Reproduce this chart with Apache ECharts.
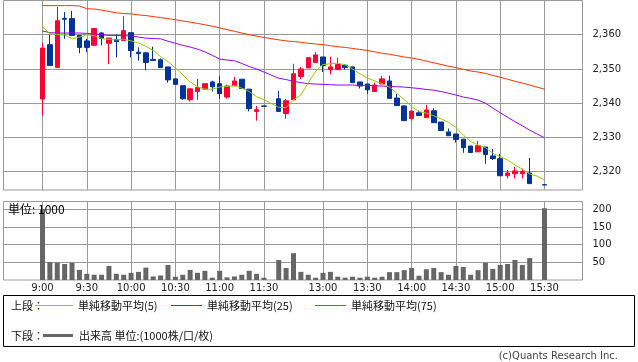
<!DOCTYPE html>
<html><head><meta charset="utf-8">
<script src="https://cdn.jsdelivr.net/npm/echarts@6/dist/echarts.min.js"></script>
<style>html,body{margin:0;padding:0;background:#fff}#c{width:638px;height:362px}</style>
</head><body><div id="c"></div>
<script>
// 5-minute slots ('' = lunch break slot)
const slots = ['9:00','9:05','9:10','9:15','9:20','9:25','9:30','9:35','9:40','9:45','9:50','9:55',
 '10:00','10:05','10:10','10:15','10:20','10:25','10:30','10:35','10:40','10:45','10:50','10:55',
 '11:00','11:05','11:10','11:15','11:20','11:25','11:30','',
 '12:30','12:35','12:40','12:45','12:50','12:55','13:00','13:05','13:10','13:15','13:20','13:25',
 '13:30','13:35','13:40','13:45','13:50','13:55','14:00','14:05','14:10','14:15','14:20','14:25',
 '14:30','14:35','14:40','14:45','14:50','14:55','15:00','15:05','15:10','15:15','15:20','15:25','15:30'];
const timeTicks = ['9:00','9:30','10:00','10:30','11:00','11:30','13:00','13:30','14:00','14:30','15:00','15:30'];
const priceTicks = [2320,2330,2340,2350,2360];
const volumeTicks = [50,100,150,200];

const open = [2341.2,2357.1,2350.4,2364.8,2364.7,2359.8,2358.2,2356.9,2360.5,2357.5,2358.6,2358.3,
 2360.6,2354.9,2354.7,2352.8,2352.7,2350.6,2347.1,2345.1,2341.0,2343.4,2344.1,2346.2,
 2345.7,2341.8,2345.1,2347.0,2344.1,2337.6,2339.2,null,
 2341.3,2337.0,2341.0,2347.8,2350.3,2351.9,2353.5,2349.8,2349.8,2351.1,2350.6,2346.2,
 2345.6,2343.4,2345.6,2346.5,2341.5,2339.2,2335.5,2337.2,2335.8,2337.8,2334.5,2331.6,
 2331.0,2329.5,2327.5,2325.8,2327.2,2324.6,2323.8,2318.8,2319.4,2319.4,2319.6,null,2316.2];
const close = [2356.1,2351.0,2364.1,2364.5,2359.8,2356.3,2356.3,2361.8,2358.9,2359.0,2358.0,2361.2,
 2355.4,2354.5,2351.9,2352.5,2350.4,2346.8,2345.5,2341.3,2344.2,2344.6,2345.7,2344.8,
 2342.8,2345.0,2346.5,2344.3,2338.4,2338.1,2339.1,null,
 2337.6,2340.7,2348.6,2350.0,2353.3,2354.1,2351.0,2350.6,2351.3,2350.4,2346.0,2345.0,
 2343.9,2345.3,2347.1,2341.4,2339.3,2334.9,2337.7,2336.4,2338.0,2334.3,2332.0,2330.5,
 2329.4,2327.0,2325.6,2327.6,2325.0,2323.8,2318.8,2319.6,2320.2,2320.1,2316.5,null,2316.1];
const low = [2336.4,2351.0,2350.4,2358.8,2359.8,2354.6,2354.9,2356.9,2356.9,2351.4,2353.4,2358.3,
 2353.4,2352.4,2349.6,2352.4,2350.4,2346.0,2345.5,2341.0,2340.5,2341.0,2344.1,2343.4,
 2341.3,2341.3,2345.1,2344.3,2337.6,2334.9,2339.1,null,
 2337.6,2335.5,2341.0,2347.0,2350.3,2351.9,2349.1,2348.4,2349.8,2349.8,2346.0,2344.3,
 2342.7,2343.4,2345.6,2341.4,2339.3,2334.9,2334.9,2336.4,2335.8,2334.3,2332.0,2330.5,
 2328.5,2325.5,2325.6,2325.8,2322.3,2323.4,2318.8,2318.0,2318.0,2318.0,2316.5,null,2316.1];
const high = [2357.6,2360.0,2368.1,2366.6,2367.0,2359.8,2358.8,2362.0,2360.8,2359.0,2360.1,2365.4,
 2360.6,2356.3,2355.0,2356.5,2353.1,2350.6,2347.1,2345.1,2344.2,2347.1,2345.7,2346.6,
 2347.9,2345.4,2347.7,2347.0,2344.1,2339.2,2339.2,null,
 2343.6,2341.3,2351.5,2350.6,2353.3,2354.9,2353.5,2353.6,2353.3,2351.4,2350.6,2346.2,
 2345.6,2346.0,2348.0,2348.0,2342.7,2339.4,2337.7,2337.8,2339.5,2338.5,2334.5,2332.6,
 2331.0,2329.5,2327.5,2329.0,2327.2,2326.6,2325.2,2320.5,2321.4,2320.9,2324.0,null,2316.2];
const volume = [200,50.8,49,45.3,49,28.6,17.5,14.8,14.8,39.8,17.5,14.8,
 20.3,23,35,10,12.8,42.6,9.3,14.8,28.6,20.3,25.9,6.5,
 25.9,7.4,10,14.8,25.9,17.5,6.5,null,
 56.5,34,75.9,23,14.8,6.5,20.3,23,9.3,6.5,9.3,6.5,
 9.3,6.5,9.3,22.2,22.2,27.8,34,12,30.5,34,22.2,14.8,
 39.8,37,14.8,27.8,49,31.4,42.6,45.3,56.5,42.6,62,null,203];
const ma5 = [2362.3,2360.3,2360.1,2360.0,2358.8,2359.3,2360.0,2359.7,2358.9,2358.6,2358.5,2358.7,
 2358.2,2357.6,2356.6,2355.4,2353.6,2352.2,2350.3,2348.3,2346.2,2344.8,2344.1,2344.1,
 2344.7,2344.9,2345.1,2344.4,2343.4,2341.9,2341.0,null,
 2338.8,2338.7,2341.0,2342.4,2345.9,2349.3,2351.3,2351.5,2351.7,2351.2,2350.0,2348.6,
 2347.4,2346.5,2345.7,2344.7,2342.9,2341.0,2339.0,2337.6,2337.1,2336.3,2335.4,2334.4,
 2332.9,2330.7,2328.8,2327.8,2327.0,2325.4,2324.4,2323.4,2322.0,2320.7,2319.3,2318.7,2317.6];
const ma25 = [2361.1,2360.6,2360.5,2360.5,2360.5,2360.5,2360.4,2360.2,2360.0,2359.8,2359.8,2359.7,
 2359.7,2359.3,2359.0,2358.9,2358.8,2358.1,2357.5,2356.9,2356.4,2355.8,2355.0,2354.0,
 2352.9,2352.6,2352.4,2351.6,2350.7,2350.0,2349.1,null,
 2347.3,2346.9,2346.4,2346.0,2345.7,2345.6,2345.5,2345.4,2345.3,2345.3,2345.3,2345.2,
 2345.2,2345.1,2345.0,2344.9,2344.8,2344.7,2344.5,2344.3,2344.0,2343.8,2343.4,2342.9,
 2342.4,2341.8,2341.4,2340.9,2340.0,2338.6,2337.2,2335.9,2334.6,2333.4,2332.1,2331.0,2329.9];
const ma75 = [2368.5,2368.5,2368.5,2368.5,2368.5,2368.4,2367.6,2367.5,2367.2,2366.8,2366.4,2366.2,
 2366.1,2365.8,2365.6,2365.3,2365.0,2364.7,2364.4,2364.0,2363.7,2363.3,2362.9,2362.5,
 2362.0,2361.5,2361.0,2360.5,2360.0,2359.6,2359.2,null,
 2358.5,2358.2,2358.0,2357.8,2357.5,2357.3,2357.1,2356.8,2356.5,2356.3,2356.0,2355.7,
 2355.4,2355.0,2354.6,2354.3,2353.9,2353.5,2353.2,2352.8,2352.3,2351.8,2351.3,2350.8,
 2350.4,2349.9,2349.4,2349.1,2348.7,2348.1,2347.6,2347.0,2346.4,2345.9,2345.3,2344.7,2344.1];

const tickIdx = timeTicks.map(t => slots.indexOf(t));
const pairs = arr => arr.map((v, i) => v == null ? null : [i, v]).filter(Boolean);
const candles = slots.map((t, i) => open[i] == null ? null : [i, open[i], close[i], low[i], high[i]]).filter(Boolean);
const fmtComma = v => String(v).replace(/\B(?=(\d{3})+(?!\d))/g, ',');

const GRID = '#999999';
const AXFONT = {fontFamily: 'DejaVu Sans', fontSize: 10, color: '#222'};
const XMIN = -5.283, XMAX = 73.15;

const chart = echarts.init(document.getElementById('c'), null, {renderer: 'canvas'});
const xBase = (gi, showLabel) => ({
  type: 'value', gridIndex: gi, min: XMIN, max: XMAX,
  axisLine: {show: false},
  axisTick: {show: false, customValues: tickIdx},
  axisLabel: Object.assign({show: showLabel, customValues: tickIdx, margin: 3,
    formatter: v => slots[Math.round(v)] || ''}, AXFONT),
  splitLine: {show: true, lineStyle: {color: GRID, width: 1}}
});
const yBase = (gi, min, max, ticks, fmt) => ({
  type: 'value', gridIndex: gi, position: 'right', min: min, max: max, scale: true,
  axisLine: {show: false},
  axisTick: {show: true, inside: false, length: 6, customValues: ticks, lineStyle: {color: GRID}},
  axisLabel: Object.assign({customValues: ticks, margin: 10, formatter: fmt}, AXFONT),
  splitLine: {show: true, lineStyle: {color: GRID, width: 1}}
});

const legendFont = '11px "Noto Sans CJK JP"';
const txt = (text, x, y, extra) => ({type: 'text', z: 100, style: Object.assign({text: text, x: x, y: y, font: legendFont, fill: '#111', verticalAlign: 'middle'}, extra || {})});
const ln = (x1, x2, y, color, w) => ({type: 'line', z: 100, shape: {x1: x1, y1: y, x2: x2, y2: y}, style: {stroke: color, lineWidth: w}});

chart.setOption({
  animation: false,
  backgroundColor: '#fff',
  grid: [
    {left: 3.5, top: 0.5, width: 579, height: 189.5, show: true, borderColor: GRID, borderWidth: 1, outerBoundsMode: 'none', containLabel: false},
    {left: 3.5, top: 201.5, width: 579, height: 78.5, show: true, borderColor: GRID, borderWidth: 1, outerBoundsMode: 'none', containLabel: false}
  ],
  xAxis: [xBase(0, false), xBase(1, true)],
  yAxis: [
    yBase(0, 2314.64, 2370, priceTicks, v => fmtComma(v)),
    yBase(1, 0, 222, volumeTicks, v => String(v))
  ],
  series: [
    {type: 'candlestick', xAxisIndex: 0, yAxisIndex: 0, data: candles, barWidth: 5,
     itemStyle: {color: '#ff0033', color0: '#003399', borderColor: '#ff0033', borderColor0: '#003399', borderWidth: 1}},
    {type: 'line', xAxisIndex: 0, yAxisIndex: 0, data: pairs(ma75), showSymbol: false, symbol: 'none', lineStyle: {color: '#ff3300', width: 1}, z: 3},
    {type: 'line', xAxisIndex: 0, yAxisIndex: 0, data: pairs(ma25), showSymbol: false, symbol: 'none', lineStyle: {color: '#9900ff', width: 1}, z: 3},
    {type: 'line', xAxisIndex: 0, yAxisIndex: 0, data: pairs(ma5), showSymbol: false, symbol: 'none', lineStyle: {color: '#99cc00', width: 1}, z: 3},
    {type: 'bar', xAxisIndex: 1, yAxisIndex: 1, data: pairs(volume), barWidth: 5, itemStyle: {color: '#666666'}}
  ],
  graphic: [
    txt('単位: 1000', 8, 209, {font: '12px "Noto Sans CJK JP"', fill: '#000'}),
    {type: 'rect', z: 100, shape: {x: 3.5, y: 295.5, width: 631, height: 51}, style: {fill: 'none', stroke: '#000', lineWidth: 1}},
    txt('上段：', 11, 306),
    ln(35, 73, 305.5, '#99cc00', 1),
    txt('単純移動平均(5)', 78, 306),
    ln(171, 202, 305.5, '#9900ff', 1),
    txt('単純移動平均(25)', 207, 306),
    ln(315, 346, 305.5, '#ff3300', 1),
    txt('単純移動平均(75)', 351, 306),
    txt('下段：', 11, 336),
    ln(43, 73, 335.5, '#666666', 3),
    txt('出来高 単位:(1000株/口/枚)', 79, 336),
    {type: 'text', z: 100, style: {text: '(c)Quants Research Inc.', x: 618, y: 356, align: 'right', verticalAlign: 'middle', font: '10px "DejaVu Sans"', fill: '#444'}}
  ]
});
</script></body></html>
